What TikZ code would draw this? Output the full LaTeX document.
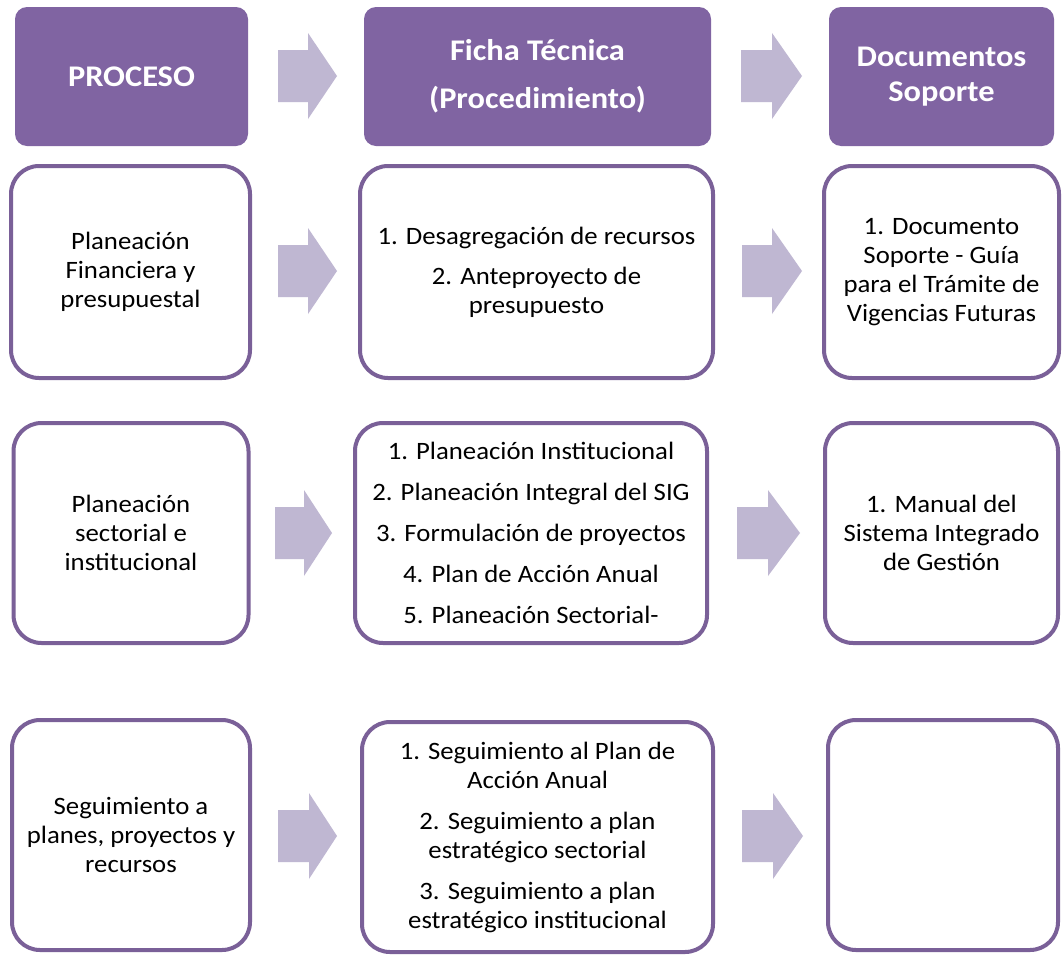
\documentclass[tikz,border=0pt]{standalone}
\usepackage{fontspec}
\setmainfont{Carlito}
\newfontfamily\bodyfont{Carlito}[FakeStretch=1.07]
\newfontfamily\hdrfont{Carlito}[FakeStretch=1.08]
\definecolor{hdr}{RGB}{128,100,162}
\definecolor{brd}{RGB}{122,96,152}
\definecolor{arw}{RGB}{191,183,210}
\newcommand\blkarrow[4]{%
  \fill[arrowfill] (#1,#4-26) -- (#2,#4-26) -- (#2,#4-43) -- (#3,#4) -- (#2,#4+43) -- (#2,#4+26) -- (#1,#4+26) -- cycle;}
\tikzset{
  hdrbox/.style={fill=hdr, rounded corners=12pt, text=white, align=center, inner sep=0pt,
    font=\hdrfont\fontsize{30}{35}\selectfont\bfseries},
  bodybox/.style={draw=brd, line width=4pt, rounded corners=28pt, fill=white, align=center,
    inner sep=0pt, text=black, font=\bodyfont\fontsize{25}{29}\selectfont},
  arrowfill/.style={fill=arw}
}
\begin{document}
\begin{tikzpicture}[x=1pt,y=-1pt]
\useasboundingbox[fill=white] (0,0) rectangle (1063,956);
% headers
\node[hdrbox, minimum width=233pt, minimum height=139pt] (h1) at (131.5,76.5) {PROCESO};
\node[hdrbox, minimum width=347pt, minimum height=139pt] (h2) at (537.5,76.5) {Ficha Técnica\\[13pt](Procedimiento)};
\node[hdrbox, minimum width=225pt, minimum height=139pt] (h3) at (941.5,76.5) {Documentos\\Soporte};
\blkarrow{278}{308}{337}{76}
\blkarrow{741}{772}{802}{76}
% row 1
\node[bodybox, minimum width=239pt, minimum height=212pt] (a1) at (130.5,272) {Planeación\\Financiera y\\presupuestal};
\node[bodybox, minimum width=353pt, minimum height=212pt] (a2) at (536.5,272) {1. Desagregación de recursos\\[11pt]2. Anteproyecto de\\presupuesto};
\node[bodybox, minimum width=235pt, minimum height=212pt] (a3) at (941.5,272) {1. Documento\\Soporte - Guía\\para el Trámite de\\Vigencias Futuras};
\blkarrow{278}{308}{337}{271}
\blkarrow{742}{772}{802}{271}
% row 2
\node[bodybox, minimum width=235pt, minimum height=220pt] (b1) at (131,533) {Planeación\\sectorial e\\institucional};
\node[bodybox, minimum width=352pt, minimum height=220pt] (b2) at (531,533) {1. Planeación Institucional\\[12pt]2. Planeación Integral del SIG\\[12pt]3. Formulación de proyectos\\[12pt]4. Plan de Acción Anual\\[12pt]5. Planeación Sectorial-};
\node[bodybox, minimum width=233pt, minimum height=220pt] (b3) at (941.5,533) {1. Manual del\\Sistema Integrado\\de Gestión};
\blkarrow{275}{304}{332}{533}
\blkarrow{737}{768}{800}{533}
% row 3
\node[bodybox, minimum width=238pt, minimum height=230pt] (c1) at (131,835) {Seguimiento a\\planes, proyectos y\\recursos};
\node[bodybox, minimum width=351pt, minimum height=230pt] (c2) at (537.5,837) {1. Seguimiento al Plan de\\Acción Anual\\[12pt]2. Seguimiento a plan\\estratégico sectorial\\[12pt]3. Seguimiento a plan\\estratégico institucional};
\node[bodybox, minimum width=230pt, minimum height=230pt] (c3) at (943,835) {};
\blkarrow{278}{309}{337}{836}
\blkarrow{742}{773}{803}{836}
\end{tikzpicture}
\end{document}
